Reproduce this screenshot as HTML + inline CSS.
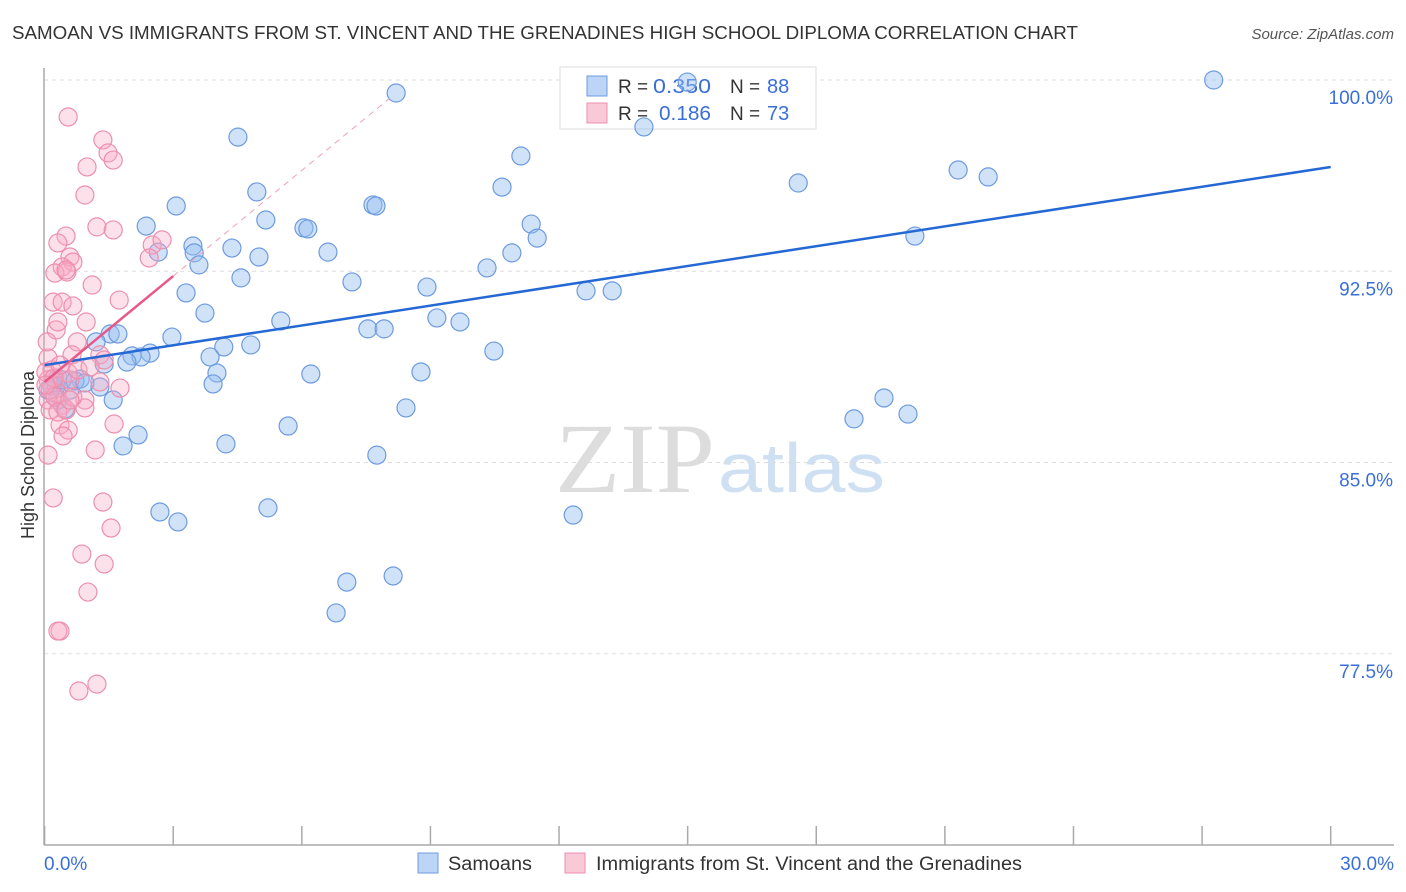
<!DOCTYPE html>
<html><head><meta charset="utf-8">
<style>
body{margin:0;background:#fff;font-family:"Liberation Sans",sans-serif;}
#wrap{position:relative;width:1406px;height:892px;overflow:hidden;}
</style></head>
<body>
<div id="wrap">
<svg id="svg" width="1406" height="892" xmlns="http://www.w3.org/2000/svg">
<text x="12" y="39" font-size="18" fill="#333" textLength="1066" lengthAdjust="spacingAndGlyphs">SAMOAN VS IMMIGRANTS FROM ST. VINCENT AND THE GRENADINES HIGH SCHOOL DIPLOMA CORRELATION CHART</text>
<text x="1394" y="39" font-size="15" fill="#555" font-style="italic" text-anchor="end">Source: ZipAtlas.com</text>
<text x="555" y="492" font-size="100" fill="#ddd" font-family="Liberation Serif,serif" textLength="160" lengthAdjust="spacingAndGlyphs">ZIP</text>
<text x="718" y="492" font-size="70" fill="#cfe0f3" textLength="167" lengthAdjust="spacingAndGlyphs">atlas</text>
<g id="grid"></g><g id="axes"></g>
<g>
<rect x="560" y="67" width="256" height="62" fill="#fff" stroke="#ddd"/>
<rect x="587" y="76" width="20" height="20" fill="#bcd4f5" stroke="#6d9be0"/>
<rect x="587" y="103" width="20" height="20" fill="#fac9d8" stroke="#ec8fae"/>
<text x="618" y="93" font-size="19" fill="#333">R =</text>
<text x="653" y="93" font-size="20" fill="#3a6fd8" textLength="58" lengthAdjust="spacingAndGlyphs">0.350</text>
<text x="730" y="93" font-size="19" fill="#333">N =</text>
<text x="767" y="93" font-size="20" fill="#3a6fd8">88</text>
<text x="618" y="120" font-size="19" fill="#333">R =</text>
<text x="659" y="120" font-size="20" fill="#3a6fd8" textLength="52" lengthAdjust="spacingAndGlyphs">0.186</text>
<text x="730" y="120" font-size="19" fill="#333">N =</text>
<text x="767" y="120" font-size="20" fill="#3a6fd8">73</text>
</g>
<g id="pts"></g><g id="lines"></g>
<text transform="translate(34,455) rotate(-90)" font-size="18" fill="#333" text-anchor="middle">High School Diploma</text>
<text x="44" y="870" font-size="19" fill="#3a6fd8">0.0%</text>
<text x="1394" y="870" font-size="19" fill="#3a6fd8" text-anchor="end">30.0%</text>
<g>
<rect x="418" y="853" width="20" height="20" fill="#bcd4f5" stroke="#6d9be0"/>
<text x="448" y="870" font-size="19" fill="#333" textLength="84" lengthAdjust="spacingAndGlyphs">Samoans</text>
<rect x="565" y="853" width="20" height="20" fill="#fac9d8" stroke="#ec8fae"/>
<text x="596" y="870" font-size="19" fill="#333" textLength="426" lengthAdjust="spacingAndGlyphs">Immigrants from St. Vincent and the Grenadines</text>
</g>
</svg>
</div>
<script>
const yTicks=[100,92.5,85,77.5];
const yTickLabels=["100.0%","92.5%","85.0%","77.5%"];
const xTicks=[0,3,6,9,12,15,18,21,24,27,30];
const blueX=[27.27,14.99,8.20,13.98,4.51,11.11,17.58,21.31,22.01,10.67,4.95,7.66,7.73,3.07,5.16,2.37,11.35,6.05,6.14,11.49,3.46,4.37,3.49,2.65,6.61,5.00,3.60,10.32,10.90,20.30,4.58,7.17,3.30,8.92,12.63,13.24,3.74,9.15,9.69,5.51,7.54,7.92,1.53,1.71,1.20,2.97,4.18,4.81,10.48,2.46,2.04,2.25,3.86,1.92,1.39,4.02,6.21,8.78,0.31,0.83,3.93,0.17,1.29,0.59,1.60,19.58,8.43,0.48,20.14,18.88,5.68,4.23,1.83,2.18,7.75,2.69,5.21,3.11,12.33,7.05,8.13,6.80,0.27,0.41,0.71,0.94,0.08,0.31];
const blueY=[100.0,99.92,99.49,98.16,97.76,97.02,95.96,96.47,96.20,95.80,95.61,95.10,95.06,95.06,94.51,94.27,94.35,94.20,94.16,93.80,93.49,93.41,93.22,93.25,93.25,93.06,92.75,92.63,93.22,93.88,92.24,92.08,91.65,91.88,91.73,91.73,90.86,90.67,90.51,90.55,90.24,90.24,90.04,90.04,89.73,89.92,89.53,89.61,89.37,89.29,89.18,89.14,89.14,88.94,88.86,88.51,88.47,88.55,88.31,88.27,88.08,88.00,87.96,87.84,87.45,87.53,87.14,87.10,86.90,86.71,86.43,85.73,85.65,86.08,85.29,83.06,83.22,82.67,82.94,80.31,80.55,79.10,88.00,88.24,88.20,88.12,87.84,87.45];
const pinkX=[0.55,1.36,1.48,1.60,0.99,0.94,1.22,1.60,0.50,0.31,2.51,2.74,2.44,0.59,0.66,0.41,0.24,0.52,0.50,1.11,0.20,0.41,0.66,1.74,0.97,0.27,0.31,0.76,1.29,0.64,0.08,1.39,0.17,0.55,0.59,1.29,1.76,0.29,0.94,0.41,0.08,0.13,0.94,1.62,0.36,0.55,0.43,0.08,0.20,1.36,1.55,0.87,1.39,1.01,0.36,0.31,1.22,0.80,0.08,0.13,0.24,0.03,0.31,0.50,0.22,0.36,0.78,1.06,0.06,0.03,0.66,1.18,0.59];
const pinkY=[98.55,97.65,97.14,96.86,96.59,95.49,94.24,94.12,93.88,93.61,93.53,93.73,93.02,93.06,92.86,92.67,92.43,92.47,92.55,91.96,91.29,91.29,91.14,91.37,90.51,90.20,90.51,89.73,89.22,89.22,89.10,89.02,88.63,88.51,88.24,88.16,87.92,87.73,87.45,87.25,87.45,87.06,87.14,86.51,86.47,86.27,86.04,85.29,83.61,83.45,82.43,81.41,81.02,79.92,78.39,78.39,76.31,76.04,88.24,87.84,87.57,88.55,86.98,87.06,88.31,88.82,88.63,88.75,89.73,88.04,87.57,85.49,87.45];
const blueTrend=[[0,88.82],[30,96.59]];
const pinkTrendSolid=[[0,88.16],[3.0,92.31]];
const pinkTrendDash=[[3.0,92.31],[8.06,99.3]];

const X=v=>44.6+v*42.87;
const Y=v=>80+(100-v)*25.5;
const NS="http://www.w3.org/2000/svg";
function mk(tag,attrs,parent){const e=document.createElementNS(NS,tag);for(const k in attrs)e.setAttribute(k,attrs[k]);document.getElementById(parent).appendChild(e);return e;}
yTicks.forEach((t,i)=>{
  const l=mk('line',{x1:44,x2:1394,y1:Y(t),y2:Y(t),stroke:'#ddd','stroke-dasharray':'4,4'},'grid');
  
  
  const tx=mk('text',{x:1393,y:Y(t)+24,'font-size':19,fill:'#3a6fd8','text-anchor':'end'},'grid');
  tx.textContent=yTickLabels[i];
  
  
});
const ax=mk('line',{x1:44,x2:44,y1:68,y2:Y(70),stroke:'#aaa','stroke-width':1.5},'axes');


const bx=mk('line',{x1:44,x2:1394,y1:Y(70),y2:Y(70),stroke:'#aaa','stroke-width':1.5},'axes');


xTicks.forEach(t=>{
  const l=mk('line',{x1:X(t),x2:X(t),y1:Y(70)-19,y2:Y(70),stroke:'#aaa','stroke-width':1.5},'axes');
  
  
});
blueX.forEach((x,i)=>{
  const c=mk('circle',{cx:X(x),cy:Y(blueY[i]),r:9,fill:'rgba(150,190,240,0.45)',stroke:'#6d9be0','stroke-width':1.2},'pts');
  
  
});
pinkX.forEach((x,i)=>{
  const c=mk('circle',{cx:X(x),cy:Y(pinkY[i]),r:9,fill:'rgba(248,170,195,0.35)',stroke:'#ec8fae','stroke-width':1.2},'pts');
  
  
});
const bl=mk('line',{x1:X(blueTrend[0][0]),y1:Y(blueTrend[0][1]),x2:X(blueTrend[1][0]),y2:Y(blueTrend[1][1]),stroke:'#2468d4','stroke-width':2.5},'lines');


const pl=mk('line',{x1:X(pinkTrendSolid[0][0]),y1:Y(pinkTrendSolid[0][1]),x2:X(pinkTrendSolid[1][0]),y2:Y(pinkTrendSolid[1][1]),stroke:'#e8588a','stroke-width':2.5},'lines');


const pd=mk('line',{x1:X(pinkTrendDash[0][0]),y1:Y(pinkTrendDash[0][1]),x2:X(pinkTrendDash[1][0]),y2:Y(pinkTrendDash[1][1]),stroke:'#eea0ba','stroke-width':1,'stroke-dasharray':'6,5'},'lines');


</script>
</body></html>
